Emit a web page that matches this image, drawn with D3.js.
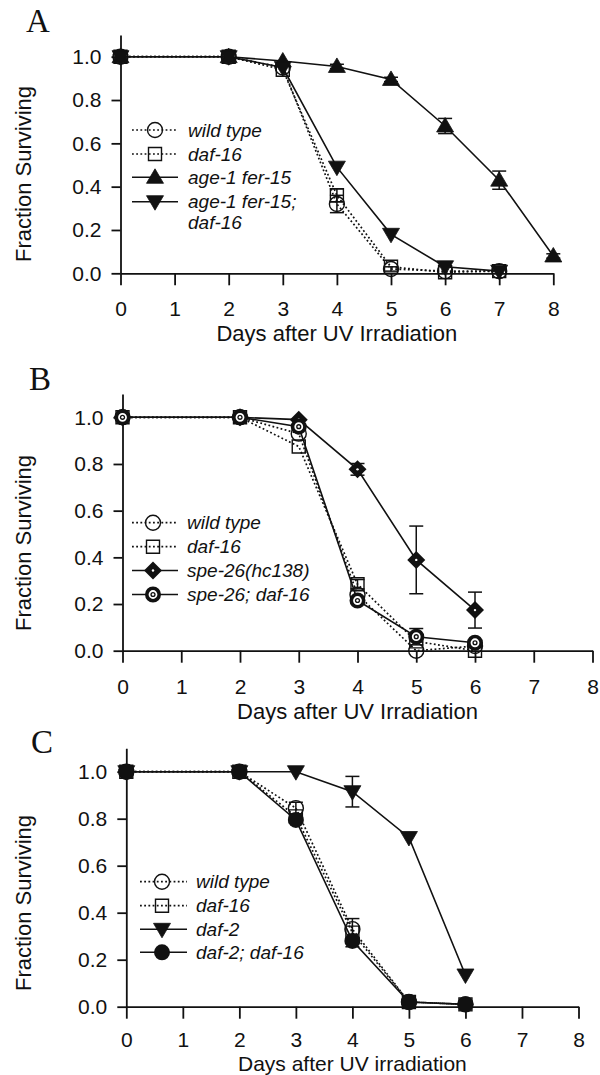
<!DOCTYPE html>
<html>
<head>
<meta charset="utf-8">
<script src="https://cdn.jsdelivr.net/npm/d3@7"></script>
<style>
  body { margin: 0; background: #fff; }
  svg { display: block; }
</style>
</head>
<body>
<div id="chart"></div>
<script>
// tick values shared by all three panels
var dayTicks = [0, 1, 2, 3, 4, 5, 6, 7, 8];
var fracTicks = [0, 0.2, 0.4, 0.6, 0.8, 1.0];

// panel A
var daysA = [0, 2, 3, 4, 5, 6, 7, 8];
var wildTypeA = [1.0, 1.0, 0.95, 0.32, 0.02, 0.01, 0.01, null];
var daf16A = [1.0, 1.0, 0.94, 0.36, 0.03, 0.005, 0.01, null];
var age1A = [1.0, 1.0, 0.98, 0.955, 0.895, 0.68, 0.43, 0.08];
var age1daf16A = [1.0, 1.0, 0.95, 0.49, 0.18, 0.03, 0.01, null];
var wildTypeErrA = [0, 0, 0, 0.04, 0.01, 0, 0, 0];
var daf16ErrA = [0, 0, 0, 0.03, 0, 0, 0, 0];
var age1ErrA = [0, 0, 0, 0.01, 0.01, 0.035, 0.042, 0.01];
var age1daf16ErrA = [0, 0, 0, 0, 0, 0, 0, 0];
var legendA = ["wild type", "daf-16", "age-1 fer-15", "age-1 fer-15;|daf-16"];

// panel B
var daysB = [0, 2, 3, 4, 5, 6];
var wildTypeB = [1.0, 1.0, 0.93, 0.24, 0.0, 0.02];
var daf16B = [1.0, 1.0, 0.875, 0.285, 0.04, 0.0];
var spe26B = [1.0, 1.0, 0.99, 0.777, 0.389, 0.174];
var spe26daf16B = [1.0, 1.0, 0.96, 0.215, 0.06, 0.034];
var wildTypeErrB = [0, 0, 0, 0, 0, 0];
var daf16ErrB = [0, 0, 0, 0.02, 0, 0];
var spe26ErrB = [0, 0, 0, 0.025, 0.145, 0.077];
var spe26daf16ErrB = [0, 0, 0, 0, 0.035, 0.01];
var legendB = ["wild type", "daf-16", "spe-26(hc138)", "spe-26; daf-16"];

// panel C
var daysC = [0, 2, 3, 4, 5, 6];
var wildTypeC = [1.0, 1.0, 0.845, 0.33, 0.02, 0.01];
var daf16C = [1.0, 1.0, 0.81, 0.315, 0.02, 0.01];
var daf2C = [1.0, 1.0, 1.0, 0.915, 0.72, 0.135];
var daf2daf16C = [1.0, 1.0, 0.795, 0.28, 0.02, 0.01];
var wildTypeErrC = [0, 0, 0.025, 0, 0, 0];
var daf16ErrC = [0, 0, 0, 0.06, 0, 0];
var daf2ErrC = [0, 0, 0, 0.065, 0, 0];
var daf2daf16ErrC = [0, 0, 0, 0, 0, 0];
var legendC = ["wild type", "daf-16", "daf-2", "daf-2; daf-16"];

var W = 600, H = 1075;
var sans = "'Liberation Sans', Arial, Helvetica, sans-serif";

var svg = d3.select("#chart").append("svg")
    .attr("width", W)
    .attr("height", H);

//marker paths
function markerPath(type){
  switch(type){
    case "triUp": return "M0,-8.5L8.5,6L-8.5,6Z";
    case "triDown": return "M0,8.5L8.5,-6L-8.5,-6Z";
    case "square": return "M-6.5,-6.5h13v13h-13Z";
    case "diamond": return "M0,-9L9,0L0,9L-9,0Z";
  }
  return "";
}

function makeSeries(days, vals, errs, label, marker, dotted){
  var pts = [];
  days.forEach(function(d, i){
    if(vals[i] != null) pts.push({day: d, v: vals[i], e: errs[i] || 0});
  });
  return {pts: pts, label: label, marker: marker, dotted: dotted};
}

var panels = [
  {
    letter: "A", letterX: 26, letterY: 32,
    xRange: [120.5, 553.3], y0: 273.3, unit: 216.6,
    xPad: 16, titleY: 341, titleSize: 22, yTitleY: 174,
    title: "Days after UV Irradiation",
    legend: {x1: 132, x2: 178, mx: 155, tx: 188, ys: [130, 154, 177.3, 201.7], lineGap: 21},
    series: [
      makeSeries(daysA, wildTypeA, wildTypeErrA, legendA[0], "openCircle", true),
      makeSeries(daysA, daf16A, daf16ErrA, legendA[1], "openSquare", true),
      makeSeries(daysA, age1A, age1ErrA, legendA[2], "triUp", false),
      makeSeries(daysA, age1daf16A, age1daf16ErrA, legendA[3], "triDown", false)
    ]
  },
  {
    letter: "B", letterX: 29, letterY: 390,
    xRange: [122.5, 592.5], y0: 650.7, unit: 233.4,
    xPad: 16, titleY: 718.5, titleSize: 22, yTitleY: 543,
    title: "Days after UV Irradiation",
    legend: {x1: 132, x2: 178, mx: 153, tx: 187, ys: [522.7, 546.7, 570.5, 594.5]},
    series: [
      makeSeries(daysB, wildTypeB, wildTypeErrB, legendB[0], "openCircle", true),
      makeSeries(daysB, daf16B, daf16ErrB, legendB[1], "openSquare", true),
      makeSeries(daysB, spe26B, spe26ErrB, legendB[2], "diamondDot", false),
      makeSeries(daysB, spe26daf16B, spe26daf16ErrB, legendB[3], "ring", false)
    ]
  },
  {
    letter: "C", letterX: 31, letterY: 753,
    xRange: [126.3, 578.5], y0: 1006.7, unit: 235,
    xPad: 13.3, titleY: 1070.5, titleSize: 21, yTitleY: 903,
    title: "Days after UV irradiation",
    legend: {x1: 140, x2: 187, mx: 162, tx: 196, ys: [881.7, 905.7, 929.3, 952.3]},
    series: [
      makeSeries(daysC, wildTypeC, wildTypeErrC, legendC[0], "openCircle", true),
      makeSeries(daysC, daf16C, daf16ErrC, legendC[1], "openSquare", true),
      makeSeries(daysC, daf2C, daf2ErrC, legendC[2], "triDown", false),
      makeSeries(daysC, daf2daf16C, daf2daf16ErrC, legendC[3], "filledCircle", false)
    ]
  }
];

function drawMarker(g, type, x, y){
  var m = g.append("g").attr("transform", "translate(" + x + "," + y + ")");
  if(type == "openCircle"){
    m.append("circle").attr("r", 7.5).attr("fill", "none")
      .attr("stroke", "#111").attr("stroke-width", 1.4);
  } else if(type == "openSquare"){
    m.append("path").attr("d", markerPath("square")).attr("fill", "none")
      .attr("stroke", "#111").attr("stroke-width", 1.4);
  } else if(type == "filledCircle"){
    m.append("circle").attr("r", 8).attr("fill", "#111");
  } else if(type == "ring"){
    m.append("circle").attr("r", 6.2).attr("fill", "#fff")
      .attr("stroke", "#111").attr("stroke-width", 3.6);
    m.append("circle").attr("r", 2.6).attr("fill", "#111");
    m.append("circle").attr("r", 1.2).attr("fill", "#fff");
  } else if(type == "diamondDot"){
    m.append("path").attr("d", markerPath("diamond")).attr("fill", "#111");
    m.append("circle").attr("r", 1.2).attr("fill", "#fff");
  } else {
    m.append("path").attr("d", markerPath(type)).attr("fill", "#111")
      .attr("stroke", "#111").attr("stroke-width", 0.8);
  }
}

function drawPanel(p){
  var g = svg.append("g");
  var x = d3.scaleLinear().domain([0, 8]).range(p.xRange);
  var y = d3.scaleLinear().domain([0, 1.1]).range([p.y0, p.y0 - 1.1*p.unit]);

  //panel letter
  g.append("text")
    .attr("x", p.letterX).attr("y", p.letterY)
    .attr("font-family", "'Liberation Serif', 'Times New Roman', serif")
    .attr("font-size", 33)
    .attr("fill", "#111")
    .text(p.letter);

  //axes
  var xAxis = g.append("g")
    .attr("transform", "translate(0," + p.y0 + ")")
    .call(d3.axisBottom(x).tickValues(dayTicks).tickSize(12).tickSizeOuter(0)
      .tickPadding(p.xPad).tickFormat(d3.format("d")));
  var yAxis = g.append("g")
    .attr("transform", "translate(" + p.xRange[0] + ",0)")
    .call(d3.axisLeft(y).tickValues(fracTicks).tickSize(9).tickSizeOuter(0)
      .tickPadding(10).tickFormat(d3.format(".1f")));
  [xAxis, yAxis].forEach(function(a){
    a.selectAll("path, line").attr("stroke", "#111").attr("stroke-width", 1.8);
    a.selectAll("text").attr("font-family", sans).attr("font-size", 21).attr("fill", "#111");
  });

  //axis titles
  g.append("text")
    .attr("x", (p.xRange[0] + p.xRange[1])/2).attr("y", p.titleY)
    .attr("text-anchor", "middle")
    .attr("font-family", sans).attr("font-size", p.titleSize).attr("fill", "#111")
    .text(p.title);
  g.append("text")
    .attr("transform", "translate(31," + p.yTitleY + ") rotate(-90)")
    .attr("text-anchor", "middle")
    .attr("font-family", sans).attr("font-size", 22).attr("fill", "#111")
    .text("Fraction Surviving");

  var line = d3.line()
    .x(function(d){ return x(d.day); })
    .y(function(d){ return y(d.v); });

  //lines
  p.series.forEach(function(s){
    g.append("path")
      .datum(s.pts)
      .attr("d", line)
      .attr("fill", "none")
      .attr("stroke", "#111")
      .attr("stroke-width", s.dotted ? 1.7 : 1.6)
      .attr("stroke-dasharray", s.dotted ? "1.8,2.4" : null);
  });

  //error bars
  p.series.forEach(function(s){
    s.pts.filter(function(d){ return d.e > 0; }).forEach(function(d){
      var cx = x(d.day), top = y(d.v + d.e), bot = y(Math.max(0, d.v - d.e));
      var eg = g.append("g").attr("stroke", "#111").attr("stroke-width", 1.5);
      eg.append("line").attr("x1", cx).attr("x2", cx).attr("y1", top).attr("y2", bot);
      eg.append("line").attr("x1", cx - 7).attr("x2", cx + 7).attr("y1", top).attr("y2", top);
      eg.append("line").attr("x1", cx - 7).attr("x2", cx + 7).attr("y1", bot).attr("y2", bot);
    });
  });

  //markers
  p.series.forEach(function(s){
    s.pts.forEach(function(d){
      drawMarker(g, s.marker, x(d.day), y(d.v));
    });
  });

  //legend
  var L = p.legend;
  p.series.forEach(function(s, i){
    var ly = L.ys[i];
    g.append("line")
      .attr("x1", L.x1).attr("x2", L.x2).attr("y1", ly).attr("y2", ly)
      .attr("stroke", "#111")
      .attr("stroke-width", s.dotted ? 1.7 : 1.6)
      .attr("stroke-dasharray", s.dotted ? "1.8,2.4" : null);
    drawMarker(g, s.marker, L.mx, ly);
    var parts = s.label.split("|");
    parts.forEach(function(t, j){
      g.append("text")
        .attr("x", L.tx).attr("y", ly + j*(L.lineGap || 21))
        .attr("dy", "0.35em")
        .attr("font-family", sans).attr("font-style", "italic")
        .attr("font-size", 19).attr("fill", "#111")
        .text(t);
    });
  });
}

panels.forEach(drawPanel);
</script>
</body>
</html>
